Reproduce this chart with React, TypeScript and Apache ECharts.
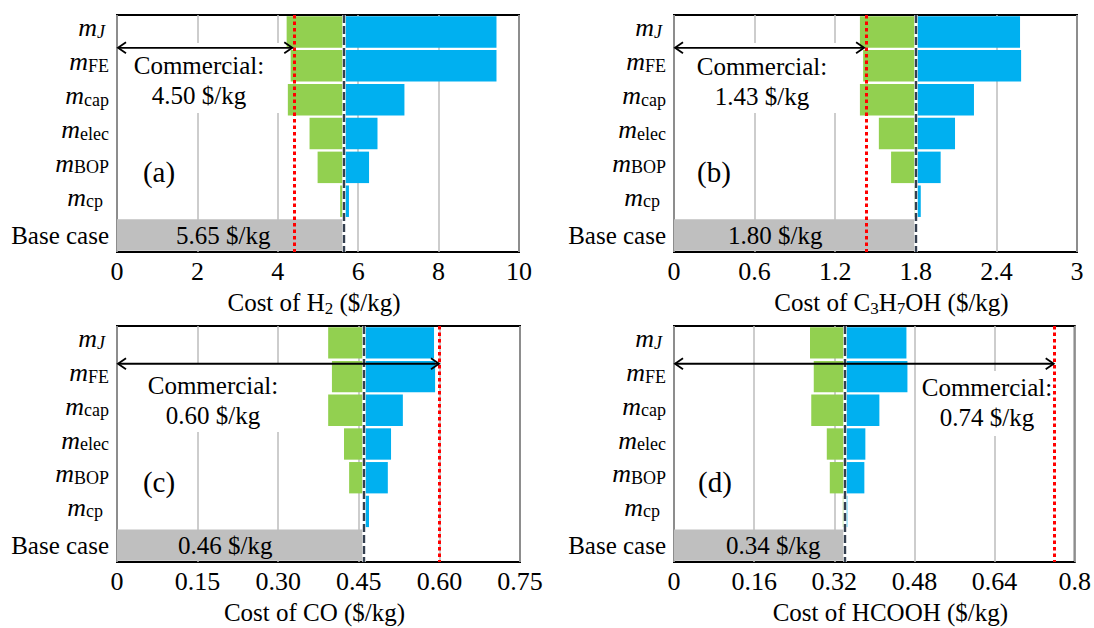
import { useEffect, useRef } from 'react';
import * as echarts from 'echarts';

// ---------- data ----------
const categories = ['mJ', 'mFE', 'mcap', 'melec', 'mBOP', 'mcp', 'Base case'];

// (a) H2
const h2Low = [4.22, 4.32, 4.25, 4.79, 4.99, 5.55];
const h2High = [9.44, 9.44, 7.15, 6.48, 6.27, 5.77];
const h2Base = 5.65;
const h2CommercialLine = 4.41;
const h2CommercialPrice = '4.50';

// (b) C3H7OH
const propLow = [1.384, 1.408, 1.384, 1.525, 1.616, 1.788];
const propHigh = [2.576, 2.584, 2.233, 2.092, 1.985, 1.837];
const propBase = 1.8;
const propCommercialLine = 1.43;
const propCommercialPrice = '1.43';

// (c) CO
const coLow = [0.393, 0.4, 0.393, 0.4225, 0.432, 0.458];
const coHigh = [0.59, 0.592, 0.532, 0.51, 0.504, 0.469];
const coBase = 0.46;
const coCommercialLine = 0.603;
const coCommercialPrice = '0.60';

// (d) HCOOH
const faLow = [0.2715, 0.279, 0.274, 0.305, 0.311, 0.337];
const faHigh = [0.464, 0.466, 0.41, 0.382, 0.38, 0.346];
const faBase = 0.34;
const faCommercialLine = 0.762;
const faCommercialPrice = '0.74';

// axis ranges
const axisMax = [10, 3, 0.75, 0.8];
const axisInterval = [2, 0.6, 0.15, 0.16];

// ---------- styles ----------
const FONT = 'Liberation Serif';
const GREEN = '#92d050';
const BLUE = '#00b0f0';
const GRAY = '#bfbfbf';
const DASH = '#353f4f';
const RED = '#ff0000';

const panels = [
  {
    low: h2Low, high: h2High, base: h2Base, line: h2CommercialLine, price: h2CommercialPrice,
    grid: { left: 117, top: 15, width: 402, height: 237 },
    name: '{a|Cost of H}{s|2}{a| ($/kg)}', namePad: [0, 8, 0, 0],
    fmt: (v: number) => String(v),
    tag: '(a)', tagPos: [159, 172],
    textPos: [199, 80], box: [119, 43, 164, 70],
    baseLabelX: 59, arrowFrac: 0.47,
  },
  {
    low: propLow, high: propHigh, base: propBase, line: propCommercialLine, price: propCommercialPrice,
    grid: { left: 674, top: 15, width: 403, height: 237 },
    name: '{a|Cost of C}{s|3}{a|H}{s|7}{a|OH ($/kg)}', namePad: [0, 0, 0, 32],
    fmt: (v: number) => String(+v.toFixed(2)),
    tag: '(b)', tagPos: [714, 172],
    textPos: [762, 81], box: [684, 43, 156, 70],
    baseLabelX: 54, arrowFrac: 0.47,
  },
  {
    low: coLow, high: coHigh, base: coBase, line: coCommercialLine, price: coCommercialPrice,
    grid: { left: 117, top: 326, width: 403, height: 236 },
    name: '{a|Cost of CO ($/kg)}', namePad: [0, 8, 0, 0],
    fmt: (v: number) => (v === 0 ? '0' : v.toFixed(2)),
    tag: '(c)', tagPos: [159, 482],
    textPos: [213, 400], box: [140, 364, 146, 68],
    baseLabelX: 61, arrowFrac: 0.62,
  },
  {
    low: faLow, high: faHigh, base: faBase, line: faCommercialLine, price: faCommercialPrice,
    grid: { left: 674, top: 326, width: 404, height: 236 },
    name: '{a|Cost of HCOOH ($/kg)}', namePad: [0, 0, 0, 32],
    fmt: (v: number) => (v === 0 ? '0' : String(+v.toFixed(2))),
    tag: '(d)', tagPos: [715, 482],
    textPos: [987, 402], box: [918, 371, 138, 65],
    baseLabelX: 52, arrowFrac: 0.62,
  },
];

const yLabelText: Record<string, string> = {
  mJ: '{m|m}{j|J}',
  mFE: '{m|m}{s|FE}',
  mcap: '{m|m}{s|cap}',
  melec: '{m|m}{s|elec}',
  mBOP: '{m|m}{s|BOP}',
  mcp: '{m|m}{c|cp}',
  'Base case': '{b|Base case}',
};

const yRich = {
  m: { fontFamily: FONT, fontStyle: 'italic', fontSize: 26, lineHeight: 18, verticalAlign: 'top', color: '#000' },
  s: { fontFamily: FONT, fontSize: 18, lineHeight: 34, verticalAlign: 'middle', color: '#000' },
  j: { fontFamily: FONT, fontStyle: 'italic', fontSize: 18, lineHeight: 34, verticalAlign: 'middle', color: '#000', padding: [0, 4, 0, 0] },
  c: { fontFamily: FONT, fontSize: 18, lineHeight: 34, verticalAlign: 'middle', color: '#000', padding: [0, 6, 0, 0] },
  b: { fontFamily: FONT, fontSize: 25, lineHeight: 34, verticalAlign: 'middle', color: '#000' },
};

const nameRich = {
  a: { fontFamily: FONT, fontSize: 25, lineHeight: 30, verticalAlign: 'middle', color: '#000' },
  s: { fontFamily: FONT, fontSize: 17, lineHeight: 16, verticalAlign: 'bottom', color: '#000' },
};

function buildOption() {
  const grid: any[] = [];
  const xAxis: any[] = [];
  const yAxis: any[] = [];
  const series: any[] = [];
  panels.forEach((p, i) => {
    grid.push({ ...p.grid, show: true, borderColor: '#000', borderWidth: 2, backgroundColor: 'transparent', containLabel: false });
    xAxis.push({
      type: 'value', gridIndex: i, min: 0, max: axisMax[i], interval: axisInterval[i],
      axisLine: { show: false }, axisTick: { show: false },
      splitLine: { show: true, lineStyle: { color: '#bdbdbd', width: 1.5 } },
      axisLabel: { fontFamily: FONT, fontSize: 26, color: '#000', margin: 6, formatter: p.fmt },
      name: p.name, nameLocation: 'middle', nameGap: 35,
      nameTextStyle: { fontFamily: FONT, rich: nameRich, padding: p.namePad },
    });
    yAxis.push({
      type: 'category', gridIndex: i, data: categories, inverse: true,
      axisLine: { show: false }, axisTick: { show: false }, splitLine: { show: false },
      axisLabel: { interval: 0, margin: 8, fontFamily: FONT, formatter: (v: string) => yLabelText[v], rich: yRich },
    });
    const stack = 'tornado' + i;
    const n = p.low.length;
    series.push({
      type: 'bar', name: 'offset' + i, xAxisIndex: i, yAxisIndex: i, stack, silent: true,
      barCategoryGap: '7%',
      itemStyle: { color: 'transparent' },
      data: [...p.low, 0],
    });
    series.push({
      type: 'bar', name: 'low' + i, xAxisIndex: i, yAxisIndex: i, stack,
      barCategoryGap: '7%',
      itemStyle: { color: GREEN },
      data: [...p.low.map((l) => +(p.base - l).toFixed(5)), '-'],
      markLine: {
        silent: true, symbol: 'none', label: { show: false },
        data: [
          { xAxis: p.base, lineStyle: { color: '#fff', width: 3.5, type: 'solid' } },
          { xAxis: p.base, lineStyle: { color: DASH, width: 2.4, type: [8, 3] } },
          { xAxis: p.line, lineStyle: { color: RED, width: 3, type: [3.5, 3] } },
        ],
      },
    });
    series.push({
      type: 'bar', name: 'high' + i, xAxisIndex: i, yAxisIndex: i, stack,
      barCategoryGap: '7%',
      itemStyle: { color: BLUE },
      data: [...p.high.map((h) => +(h - p.base).toFixed(5)), '-'],
    });
    const grayData: any[] = new Array(n).fill('-');
    grayData.push(p.base);
    series.push({
      type: 'bar', name: 'base' + i, xAxisIndex: i, yAxisIndex: i, stack,
      barCategoryGap: '7%',
      itemStyle: { color: GRAY },
      label: {
        show: true, position: [p.baseLabelX, '50%'], align: 'left', verticalAlign: 'middle',
        fontFamily: FONT, fontSize: 25, color: '#000',
        formatter: () => p.base.toFixed(2) + ' $/kg',
      },
      data: grayData,
    });
  });
  return {
    animation: false,
    backgroundColor: '#fff',
    textStyle: { fontFamily: FONT },
    grid, xAxis, yAxis, series,
  };
}

export default function App() {
  const ref = useRef<HTMLDivElement>(null);
  useEffect(() => {
    if (!ref.current) return;
    const chart = echarts.init(ref.current, undefined, { renderer: 'svg' });
    chart.setOption(buildOption() as any);

    const graphic: any[] = [];
    panels.forEach((p, i) => {
      const [bx, by, bw, bh] = p.box;
      graphic.push({ type: 'rect', shape: { x: bx, y: by, width: bw, height: bh }, style: { fill: '#fff' }, z: 1, silent: true });
      graphic.push({
        type: 'text', x: p.textPos[0], y: p.textPos[1], z: 3, silent: true,
        style: {
          text: 'Commercial:\n' + p.price + ' $/kg', fontFamily: FONT, fontSize: 25, fill: '#000',
          align: 'center', verticalAlign: 'middle', lineHeight: 30,
        },
      });
      graphic.push({
        type: 'text', x: p.tagPos[0], y: p.tagPos[1], z: 3, silent: true,
        style: { text: p.tag, fontFamily: FONT, fontSize: 29, fill: '#000', align: 'center', verticalAlign: 'middle' },
      });
      const a0 = chart.convertToPixel({ gridIndex: i } as any, [0, 0]) as number[];
      const a1 = chart.convertToPixel({ gridIndex: i } as any, [p.line, 1]) as number[];
      const y = a0[1] + (a1[1] - a0[1]) * p.arrowFrac;
      const x0 = a0[0] + 1;
      const x1 = a1[0] - 2;
      const hl = 8, hw = 5.5;
      const st = { stroke: '#000', lineWidth: 1.8, fill: null };
      graphic.push({ type: 'line', z: 20, silent: true, shape: { x1: x0, y1: y, x2: x1, y2: y }, style: st });
      graphic.push({ type: 'polyline', z: 20, silent: true, shape: { points: [[x0 + hl, y - hw], [x0, y], [x0 + hl, y + hw]] }, style: st });
      graphic.push({ type: 'polyline', z: 20, silent: true, shape: { points: [[x1 - hl, y - hw], [x1, y], [x1 - hl, y + hw]] }, style: st });
    });
    chart.setOption({ graphic } as any);
    return () => chart.dispose();
  }, []);
  return <div ref={ref} style={{ position: 'absolute', left: 0, top: 0, width: 1094, height: 628, background: '#fff' }} />;
}
